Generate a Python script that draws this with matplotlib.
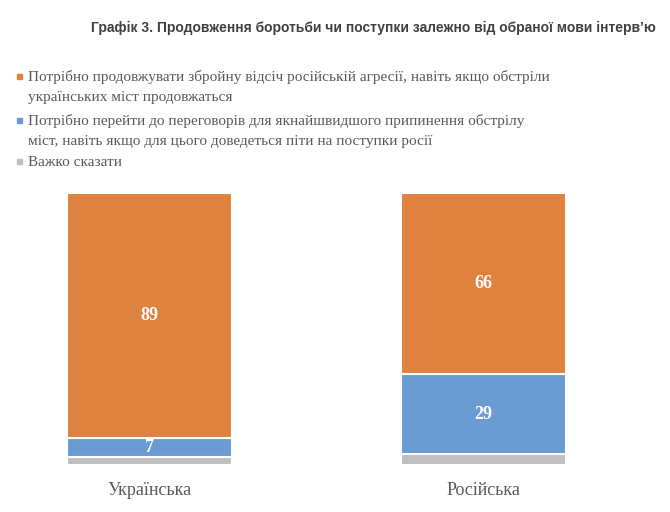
import numpy as np
import matplotlib.pyplot as plt
from matplotlib.patches import Rectangle

# Дані
categories = ['Українська', 'Російська']
fight = [89, 66]
negotiate = [7, 29]
hard_to_say = [3, 4]

labels = [
    'Потрібно продовжувати збройну відсіч російській агресії, навіть якщо обстріли\nукраїнських міст продовжаться',
    'Потрібно перейти до переговорів для якнайшвидшого припинення обстрілу\nміст, навіть якщо для цього доведеться піти на поступки росії',
    'Важко сказати',
]
colors = ['#E0823F', '#6A9BD2', '#BFBFBF']

W, H = 670, 512
fig = plt.figure(figsize=(6.7, 5.12), dpi=100)
ax = fig.add_axes([0, 1 - 465 / H, 1, (465 - 193) / H])

x = np.arange(len(categories))
w = 0.495
b1 = ax.bar(x, hard_to_say, w, color=colors[2], edgecolor='white', linewidth=1.5)
b2 = ax.bar(x, negotiate, w, bottom=hard_to_say, color=colors[1], edgecolor='white', linewidth=1.5)
bottom2 = np.array(hard_to_say) + np.array(negotiate)
b3 = ax.bar(x, fight, w, bottom=bottom2, color=colors[0], edgecolor='white', linewidth=1.5)

serif = ['Liberation Serif', 'DejaVu Serif']
for bars, vals, bots in [(b2, negotiate, hard_to_say), (b3, fight, bottom2)]:
    for rect, v, bo in zip(bars, vals, bots):
        ax.text(rect.get_x() + rect.get_width() / 2, bo + v / 2, str(v),
                ha='center', va='center', color='white', fontsize=13,
                fontweight='bold', family=serif)

left = -w / 2 - 67 / 333.5
ax.set_xlim(left, left + W / 333.5)
ax.set_ylim(0, 99)
ax.set_xticks(x)
ax.set_xticklabels(categories, family=serif, fontsize=13, color='#595959')
ax.tick_params(axis='x', length=0, pad=12)
ax.set_yticks([])
for s in ax.spines.values():
    s.set_visible(False)

fig.text(0.978, 1 - 28 / H, 'Графік 3. Продовження боротьби чи поступки залежно від обраної мови інтерв’ю',
         ha='right', va='center', fontsize=10, fontweight='bold',
         family=['Liberation Sans', 'DejaVu Sans'], color='#404040')

# Легенда вручну
line_y = [[77, 97], [121, 141], [162]]
for lab, c, ys in zip(labels, colors, line_y):
    fig.patches.append(Rectangle((17 / W, 1 - (ys[0] + 1.5) / H), 5 / W, 5 / H,
                                 transform=fig.transFigure, color=c))
    for line, yy in zip(lab.split('\n'), ys):
        fig.text(28 / W, 1 - yy / H, line, ha='left', va='center', fontsize=11,
                 family=serif, color='#595959')

plt.savefig('out.png', dpi=100)
